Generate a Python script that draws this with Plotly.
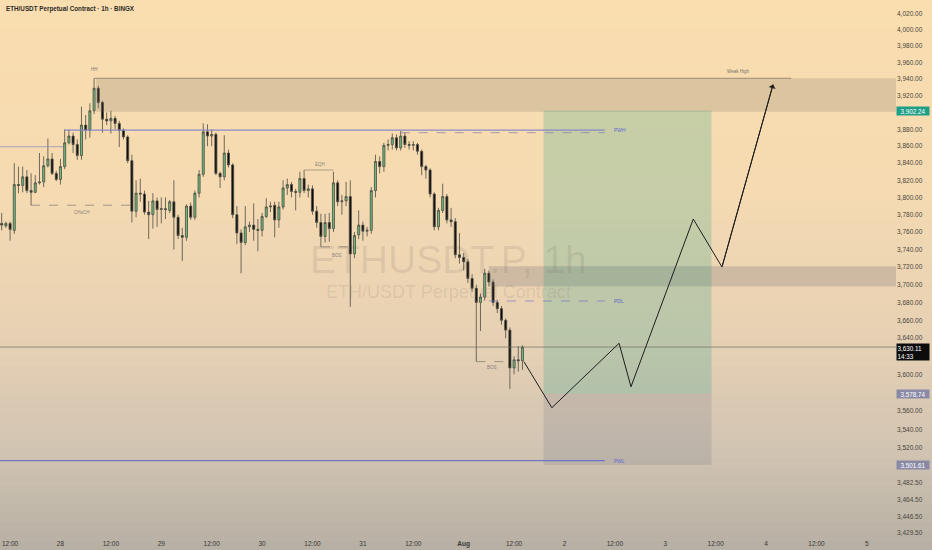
import numpy as np
import pandas as pd
import plotly.graph_objects as go

# ---------------- data ----------------
start = pd.Timestamp("2025-07-27 10:00")
opens = [3770, 3767, 3770, 3762, 3815, 3814, 3824, 3808, 3806, 3817,
         3818, 3837, 3845, 3828, 3821, 3836, 3864, 3872, 3862, 3849,
         3885, 3879, 3902, 3929, 3912, 3892, 3890, 3893, 3887, 3879,
         3871, 3843, 3784, 3805, 3804, 3783, 3780, 3796, 3786, 3787,
         3785, 3795, 3777, 3756, 3754, 3790, 3777, 3805, 3827, 3877,
         3872, 3874, 3828, 3824, 3852, 3838, 3780, 3759, 3748, 3766,
         3768, 3763, 3762, 3778, 3789, 3791, 3774, 3789, 3811, 3815,
         3807, 3806, 3822, 3808, 3810, 3784, 3771, 3755, 3771, 3764,
         3817, 3795, 3796, 3801, 3735, 3757, 3768, 3761, 3762, 3808,
         3842, 3836, 3861, 3862, 3870, 3858, 3872, 3862, 3861, 3862,
         3854, 3836, 3832, 3804, 3766, 3785, 3801, 3774, 3772, 3734,
         3731, 3726, 3707, 3696, 3680, 3686, 3713, 3703, 3680, 3673,
         3660, 3649, 3607, 3616, 3615]
highs = [3782, 3772, 3772, 3840, 3836, 3836, 3832, 3828, 3826, 3852,
         3848, 3869, 3852, 3831, 3845, 3880, 3880, 3876, 3868, 3907,
         3897, 3911, 3941, 3932, 3914, 3900, 3902, 3896, 3890, 3881,
         3873, 3850, 3820, 3822, 3808, 3796, 3805, 3800, 3800, 3800,
         3797, 3820, 3780, 3765, 3792, 3794, 3808, 3832, 3887, 3886,
         3880, 3876, 3830, 3873, 3856, 3840, 3790, 3763, 3790, 3772,
         3793, 3775, 3782, 3799, 3795, 3795, 3795, 3820, 3822, 3818,
         3810, 3830, 3832, 3815, 3814, 3790, 3781, 3781, 3782, 3830,
         3820, 3803, 3818, 3820, 3760, 3785, 3772, 3766, 3812, 3850,
         3848, 3864, 3868, 3875, 3874, 3878, 3876, 3866, 3866, 3864,
         3856, 3838, 3834, 3806, 3788, 3816, 3804, 3788, 3776, 3759,
         3736, 3729, 3712, 3700, 3690, 3718, 3716, 3706, 3683, 3676,
         3662, 3652, 3620, 3631, 3632]
lows = [3762, 3765, 3750, 3758, 3805, 3806, 3805, 3791, 3805, 3815,
        3812, 3835, 3826, 3819, 3815, 3833, 3862, 3852, 3844, 3844,
        3868, 3870, 3898, 3905, 3876, 3885, 3875, 3880, 3859, 3868,
        3840, 3771, 3777, 3795, 3780, 3752, 3764, 3766, 3770, 3775,
        3782, 3740, 3752, 3727, 3750, 3774, 3774, 3800, 3824, 3860,
        3860, 3826, 3811, 3820, 3835, 3776, 3746, 3713, 3745, 3760,
        3750, 3738, 3755, 3776, 3783, 3754, 3765, 3786, 3803, 3800,
        3785, 3800, 3805, 3800, 3780, 3765, 3743, 3748, 3749, 3760,
        3790, 3780, 3790, 3675, 3730, 3752, 3750, 3755, 3758, 3800,
        3828, 3830, 3855, 3856, 3855, 3855, 3858, 3856, 3855, 3850,
        3826, 3822, 3800, 3762, 3762, 3782, 3770, 3766, 3730, 3724,
        3716, 3702, 3692, 3614, 3648, 3682, 3698, 3676, 3668, 3655,
        3640, 3584, 3600, 3603, 3605]
closes = [3768, 3770, 3763, 3815, 3814, 3824, 3808, 3806, 3817, 3818,
          3837, 3845, 3828, 3821, 3836, 3864, 3872, 3862, 3849, 3885,
          3879, 3902, 3929, 3912, 3892, 3890, 3893, 3887, 3879, 3871,
          3843, 3784, 3805, 3804, 3783, 3780, 3796, 3786, 3787, 3786,
          3795, 3777, 3756, 3754, 3790, 3777, 3805, 3827, 3877, 3872,
          3874, 3828, 3824, 3852, 3838, 3780, 3759, 3748, 3766, 3768,
          3763, 3762, 3778, 3789, 3790, 3774, 3789, 3811, 3815, 3807,
          3806, 3822, 3808, 3810, 3784, 3771, 3755, 3771, 3764, 3817,
          3795, 3796, 3801, 3735, 3756, 3768, 3761, 3762, 3808, 3842,
          3836, 3861, 3862, 3870, 3858, 3872, 3862, 3861, 3862, 3854,
          3836, 3832, 3804, 3766, 3785, 3801, 3774, 3772, 3734, 3731,
          3726, 3707, 3696, 3680, 3686, 3713, 3703, 3680, 3673, 3660,
          3649, 3607, 3616, 3615, 3630.11]
times = pd.date_range(start, periods=len(opens), freq="h")

# levels / zones (prices)
supply_zone = [3901, 3941]
supply_start = "2025-07-28 08:30"
zone2 = [3698, 3721]
zone2_start = "2025-08-01 06:00"
zone_end = "2025-08-06 00:00"
weak_high = 3941
weak_high_span = ["2025-07-28 08:00", "2025-08-04 06:00"]
pwh = 3879
pwh_span = ["2025-07-28 01:00", "2025-08-02 09:36"]
left_level = 3859.4
left_level_span = ["2025-07-26 12:00", "2025-07-28 00:36"]
dash_high = 3876
dash_high_span = ["2025-07-31 09:00", "2025-08-02 09:36"]
pdl = 3681.6
pdl_span = ["2025-08-01 06:00", "2025-08-02 09:36"]
pwl = 3506.3
pwl_span = ["2025-07-26 12:00", "2025-08-02 09:36"]
choch = 3791
choch_span = ["2025-07-27 17:00", "2025-07-28 17:00"]
eqh = 3832
eqh_span = ["2025-07-30 10:00", "2025-07-30 17:00"]
bos1 = 3743
bos1_span = ["2025-07-30 14:00", "2025-07-30 21:00"]
bos2 = 3614
bos2_span = ["2025-08-01 03:00", "2025-08-01 11:00"]

# long position
entry = 3578.74
target = 3902.24
stop = 3501.61
pos_span = ["2025-08-01 19:00", "2025-08-03 11:00"]
last_price = 3630.11
countdown = "14:33"

# projected path
path_times = ["2025-08-01 14:20", "2025-08-01 21:00", "2025-08-02 13:00",
              "2025-08-02 15:50", "2025-08-03 06:40", "2025-08-03 13:30",
              "2025-08-04 01:40"]
path_prices = [3614, 3563.4, 3634.3, 3586.3, 3775, 3720, 3933.5]

# axis ticks
x_tickvals = ["2025-07-27 12:00", "2025-07-28 00:00", "2025-07-28 12:00",
              "2025-07-29 00:00", "2025-07-29 12:00", "2025-07-30 00:00",
              "2025-07-30 12:00", "2025-07-31 00:00", "2025-07-31 12:00",
              "2025-08-01 00:00", "2025-08-01 12:00", "2025-08-02 00:00",
              "2025-08-02 12:00", "2025-08-03 00:00", "2025-08-03 12:00",
              "2025-08-04 00:00", "2025-08-04 12:00", "2025-08-05 00:00"]
x_ticktext = ["12:00", "28", "12:00", "29", "12:00", "30", "12:00", "31",
              "12:00", "<b>Aug</b>", "12:00", "2", "12:00", "3", "12:00",
              "4", "12:00", "5"]
y_tickvals = [4020, 4000, 3980, 3960, 3940, 3920, 3880, 3860, 3840, 3820,
              3800, 3780, 3760, 3740, 3720, 3700, 3680, 3660, 3640, 3600,
              3560, 3540, 3520, 3482.5, 3464.5, 3446.5, 3429.5]

# ---------------- figure ----------------
FONT = "Liberation Sans, Arial, sans-serif"
ly = np.log10
fig = go.Figure()


def hline(span, price, color, width=1, dash="solid"):
    fig.add_trace(go.Scatter(x=span, y=[price, price], mode="lines",
                             line=dict(color=color, width=width, dash=dash),
                             hoverinfo="skip"))


def box(x0, x1, y0, y1, fill):
    fig.add_trace(go.Scatter(x=[x0, x1, x1, x0, x0], y=[y0, y0, y1, y1, y0],
                             mode="lines", fill="toself", fillcolor=fill,
                             line=dict(width=0), hoverinfo="skip"))


# zones
box(supply_start, zone_end, supply_zone[0], supply_zone[1], "rgba(125,112,100,0.22)")
box(zone2_start, zone_end, zone2[0], zone2[1], "rgba(125,120,118,0.28)")
box(pos_span[0], pos_span[1], entry, target, "rgba(8,153,129,0.20)")
box(pos_span[0], pos_span[1], stop, entry, "rgba(120,123,140,0.22)")

# levels
hline(weak_high_span, weak_high, "rgba(110,100,95,0.8)", 0.8)
hline(left_level_span, left_level, "rgba(140,135,185,0.7)", 1)
hline(pwh_span, pwh, "rgba(130,130,200,0.9)", 1.2)
hline(dash_high_span, dash_high, "rgba(120,120,170,0.8)", 0.8, "dash")
hline(pdl_span, pdl, "rgba(110,110,200,0.8)", 0.8, "dash")
hline(pwl_span, pwl, "rgba(100,110,200,0.9)", 1.2)
hline(choch_span, choch, "rgba(120,110,100,0.8)", 0.8, "dash")
hline(eqh_span, eqh, "rgba(130,120,110,0.8)", 0.8)
hline(bos1_span, bos1, "rgba(120,110,100,0.8)", 0.8, "dash")
hline(bos2_span, bos2, "rgba(120,110,100,0.8)", 0.8, "dash")
# current price line
hline(["2025-07-26 12:00", "2025-08-06 00:00"], last_price, "rgba(110,105,98,0.85)", 0.8)

# candles
fig.add_trace(go.Candlestick(
    x=times, open=opens, high=highs, low=lows, close=closes,
    increasing=dict(fillcolor="#66bb7c", line=dict(color="#4f4d44", width=0.8)),
    decreasing=dict(fillcolor="#0a0a0a", line=dict(color="#4f4d44", width=0.8)),
    whiskerwidth=0, hoverinfo="skip"))

# projection path
fig.add_trace(go.Scatter(x=path_times, y=path_prices, mode="lines",
                         line=dict(color="#1e1e1e", width=1), hoverinfo="skip"))
fig.add_annotation(x=path_times[-1], y=ly(path_prices[-1]), ax=path_times[-2],
                   ay=ly(path_prices[-2]), axref="x", ayref="y", xref="x", yref="y",
                   showarrow=True, arrowhead=1, arrowsize=1.2, arrowwidth=1,
                   arrowcolor="#1e1e1e", text="")

# small labels
small = [("HH", "2025-07-28 08:12", 3951, "#7a7268"),
         ("Weak High", "2025-08-03 17:18", 3949, "#7a7268"),
         ("CHoCH", "2025-07-28 05:06", 3783, "#8a8278"),
         ("EQH", "2025-07-30 13:48", 3838, "#8a8278"),
         ("BOS", "2025-07-30 17:48", 3733, "#8a8278"),
         ("BOS", "2025-08-01 06:42", 3607, "#8a8278")]
for t, xx, yy, c in small:
    fig.add_annotation(x=xx, y=ly(yy), text=t, showarrow=False,
                       font=dict(size=4.5, color=c, family=FONT))
for t, yy in [("PWH", pwh), ("PDL", pdl), ("PWL", pwl)]:
    fig.add_annotation(x="2025-08-02 11:12", y=ly(yy), text=t, showarrow=False,
                       xanchor="left", font=dict(size=5, color="#5a6ad0", family=FONT))

# watermark
fig.add_annotation(xref="paper", yref="paper", x=0.5, y=0.517, text="ETHUSDT.P, 1h",
                   showarrow=False, font=dict(size=39, color="rgba(95,85,75,0.13)", family=FONT))
fig.add_annotation(xref="paper", yref="paper", x=0.5, y=0.457,
                   text="ETH/USDT Perpetual Contract", showarrow=False,
                   font=dict(size=18, color="rgba(95,85,75,0.13)", family=FONT))

# title
fig.add_annotation(xref="paper", yref="paper", x=0.004, y=0.9835, xanchor="left",
                   yanchor="middle", text="<b>ETH/USDT Perpetual Contract · 1h · BINGX</b>",
                   showarrow=False, font=dict(size=6.3, color="#2b2a28", family=FONT))

# price axis tags
tags = [(f"{target:,.2f}", target, "#1f9e87"),
        (f"{entry:,.2f}", entry, "#8a8aa6"),
        (f"{stop:,.2f}", stop, "#8a8aa6")]
for txt, p, c in tags:
    fig.add_annotation(xref="paper", yref="y", x=1.0, y=ly(p), xanchor="left",
                       text=txt, showarrow=False, bgcolor=c, width=31, borderpad=0.5,
                       font=dict(size=6.3, color="white", family=FONT))
fig.add_annotation(xref="paper", yref="y", x=1.0, y=ly(last_price), xanchor="left",
                   yanchor="top", yshift=4, text=f"{last_price:,.2f}<br>{countdown}",
                   showarrow=False, bgcolor="#0c0c0c", width=31, borderpad=0.5,
                   align="left", font=dict(size=6.3, color="white", family=FONT))

# background gradient (paper coordinates)
stops_px = [0, 200, 350, 450, 550]
stops_rgb = [(250, 222, 175), (245, 218, 178), (229, 208, 180), (209, 196, 178), (182, 175, 164)]
n = 60
for k in range(n):
    y0p, y1p = 550 * k / n, 550 * (k + 1) / n
    mid = (y0p + y1p) / 2
    rgb = [int(round(np.interp(mid, stops_px, [s[j] for s in stops_rgb]))) for j in range(3)]
    fig.add_shape(type="rect", xref="paper", yref="paper", layer="below",
                  x0=-0.01, x1=1.06, y0=(538 - y1p) / 538, y1=(538 - y0p) / 538 + 0.001,
                  fillcolor=f"rgb({rgb[0]},{rgb[1]},{rgb[2]})", line=dict(width=0))

fig.update_layout(
    width=932, height=550, margin=dict(l=0, r=36, t=0, b=12),
    paper_bgcolor="rgb(236,212,178)", plot_bgcolor="rgba(0,0,0,0)",
    showlegend=False, hovermode=False,
    xaxis=dict(type="date", range=["2025-07-27 09:36", "2025-08-05 06:56"],
               tickvals=x_tickvals, ticktext=x_ticktext, showgrid=False,
               zeroline=False, showline=False, ticks="", automargin=False,
               rangeslider=dict(visible=False),
               tickfont=dict(size=6.5, color="#3a3733", family=FONT)),
    yaxis=dict(type="log", side="right", range=[3.534567, 3.606000],
               tickvals=y_tickvals, ticktext=[f"{v:,.2f}" for v in y_tickvals],
               showgrid=False, zeroline=False, showline=False, ticks="",
               automargin=False, tickfont=dict(size=6.5, color="#4a4640", family=FONT)),
)

fig.write_html("out.html", config={"displayModeBar": False},
               post_script="document.body.style.margin='0';document.body.style.padding='0';"
                           "document.body.style.overflow='hidden';")
